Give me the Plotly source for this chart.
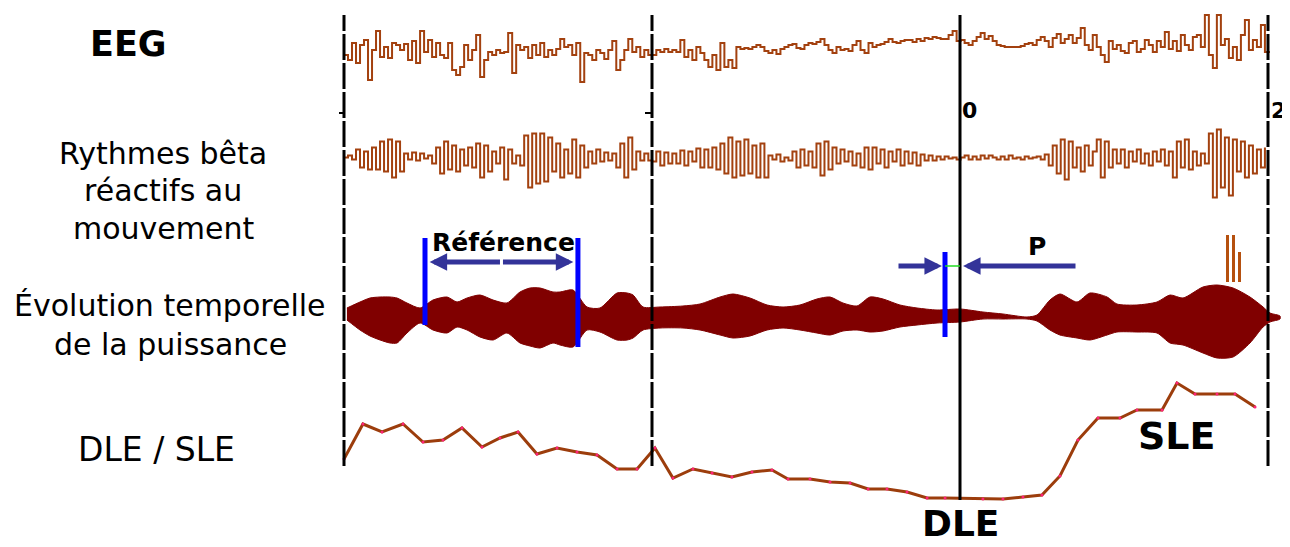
import numpy as np
import plotly.graph_objects as go

# ---------------- data ----------------
# sampling interval of the raw traces (s); time 0 = movement onset
dt = 0.026
t_start = -4.0

# raw EEG (arbitrary µV units), three 2-s blocks
eeg_pre = [0, -5, 12, -8, 10, 15, -25, 5, 24, -2, 8, -3, 12, 10, 5, 11, -5, 14, -8, 24,
           3, 15, -2, 12, 0, -3, 12, -15, -20, -12, 10, -5, 5, 20, -22, -5, 3, 0, 5, 2,
           3, 22, -18, 10, 5, 8, -3, 10, 0, 12, -2, 5, 0, 6, 16, 8, 10, 0, 12, -27,
           2, 0, -5, 5, 2, -4, 5, 14, -15, -5, 5, 16, 3, 8, -2, 5, 0]
eeg_mid = [0, 5, 3, 6, 3, 5, 3, 15, -2, 5, -5, 8, 2, -5, -12, 0, -15, 12, -12, -5,
           -13, 8, 6, 7, 6, 8, 10, 8, 4, 2, 5, 1, 6, 8, 10, 11, 7, 6, 10, 12,
           11, 13, 16, 10, 5, 2, 8, 5, 6, 4, 10, 14, 5, 2, 12, 8, 10, 11, 13, 16,
           13, 12, 14, 15, 15, 13, 16, 14, 17, 16, 18, 17, 16, 16, 20, 24, 14]
eeg_post = [15, 12, 10, 14, 18, 22, 16, 19, 14, 10, 9, 8, 8, 8, 8, 9, 11, 12, 10, 15,
            18, 14, 8, 17, 21, 12, 16, 20, 12, 17, 27, 10, 5, 20, 8, 0, -7, 14, 6, 10,
            4, 2, 12, 14, 3, 6, 15, 10, 3, 14, 8, 23, 6, 14, 4, 20, 10, 5, 18, 20,
            8, 40, 0, -13, 40, 10, 16, -3, 8, -5, 20, 35, 5, 15, 8, 30, 3, 4]

# movement-reactive beta rhythm (band-passed EEG)
beta_pre = [0, 2, -2, 8, -10, 6, -12, 10, -12, 16, -14, 18, -20, 16, -14, 4, -2, 5, -3, 4,
            -1, 2, -6, 10, -16, 16, -12, 12, -14, 8, -8, 10, -10, 14, -20, 12, -14, 6, -6, 10,
            -22, 8, -6, 2, -8, 22, -30, 24, -26, 24, -24, 20, -14, 14, -20, 8, -16, 18, -20, 12,
            -10, 6, -6, 8, -4, 5, -3, 4, -10, 14, -20, 20, -12, 6, -3, 4, -3]
beta_mid = [-4, 6, -8, 5, -6, 4, -6, 7, -8, 6, -4, 9, -10, 8, -10, 10, -12, 14, -16, 20,
            -20, 16, -18, 18, -16, 12, -20, 14, -20, 2, -2, 3, -4, 0, -3, 6, -10, 8, -8, 6,
            -10, 14, -18, 16, -12, 10, -6, 8, -4, 6, -8, 4, -10, 10, -12, 10, -6, 8, -10, 6,
            -4, 8, -8, 6, -6, 5, -8, 3, -3, 2, -3, 1, -2, 1, -1, 0, -2]
beta_post = [0, 2, -2, 1, -2, 2, -1, 2, 0, -2, 1, -2, 2, -1, 0, -2, 1, -1, 0, 1,
             -2, 3, -8, 12, -16, 18, -22, 16, -10, 10, -14, 12, -8, 6, 18, -20, 16, -10, 8, -6,
             8, -10, 6, -4, 8, -6, 4, -8, 6, -4, 8, -8, 6, -20, 16, -10, 18, -12, 6, -8,
             4, -6, 24, -40, 28, -30, 20, -38, 18, -14, 16, -20, 12, -16, 8, -10, 10]

# temporal evolution of beta power (envelope of the squared signal)
power_t = [-3.981, -3.896, -3.831, -3.766, -3.701, -3.656, -3.591, -3.506, -3.422, -3.331,
           -3.266, -3.201, -3.117, -3.032, -2.942, -2.857, -2.792, -2.727, -2.643, -2.597,
           -2.513, -2.422, -2.338, -2.227, -2.162, -2.123, -2.058, -1.948, -1.799, -1.688,
           -1.558, -1.474, -1.364, -1.253, -1.149, -1.039, -0.929, -0.844, -0.760, -0.669,
           -0.584, -0.500, -0.390, -0.279, -0.149, 0.0, 0.149, 0.279, 0.435, 0.500,
           0.584, 0.649, 0.760, 0.844, 0.955, 1.019, 1.149, 1.279, 1.364, 1.448,
           1.578, 1.669, 1.773, 1.883, 1.968, 2.013, 2.078]
power_upper = [8, 14, 18, 19, 19, 18, 13, 8, 16, 19,
               14, 18, 21, 16, 13, 24, 28, 28, 24, 24,
               26, 9, 8, 23, 23, 21, 9, 9, 10, 12,
               19, 22, 18, 11, 9, 11, 17, 19, 13, 10,
               19, 17, 11, 8, 6, 7, 4, 2, -1, 1,
               16, 22, 14, 23, 19, 12, 11, 14, 21, 18,
               29, 31, 28, 19, 9, 3, 0]
power_lower = [-4, -14, -20, -24, -27, -27, -17, -7, -14, -17,
               -11, -14, -21, -24, -17, -27, -30, -32, -27, -29,
               -31, -14, -16, -24, -24, -22, -14, -12, -12, -14,
               -19, -22, -20, -14, -12, -14, -17, -19, -15, -14,
               -16, -15, -11, -9, -7, -6, -3, -3, -3, -5,
               -14, -19, -22, -24, -19, -16, -16, -17, -27, -29,
               -37, -42, -41, -27, -11, -6, -3]

# artefact bars above the power trace
artefact_t = [1.737, 1.776, 1.815]
artefact_top = [81, 81, 64]
artefact_base = 34

# DLE / SLE curve (event-related desynchronisation / synchronisation)
dle_t = [-4.0, -3.877, -3.753, -3.617, -3.487, -3.357, -3.234, -3.104, -2.987, -2.870,
         -2.747, -2.617, -2.487, -2.357, -2.227, -2.097, -1.981, -1.864, -1.734, -1.610,
         -1.481, -1.351, -1.221, -1.117, -0.974, -0.844, -0.714, -0.597, -0.474, -0.344,
         -0.214, -0.097, 0.149, 0.279, 0.409, 0.532, 0.649, 0.766, 0.896, 1.039,
         1.149, 1.312, 1.409, 1.526, 1.669, 1.786, 1.916]
dle_val = [61, 96, 88, 96, 78, 80, 92, 73, 82, 88,
           66, 72, 68, 65, 51, 51, 72, 42, 51, 47,
           43, 48, 50, 41, 41, 38, 37, 31, 31, 28,
           22, 22, 21, 21, 23, 25, 44, 80, 102, 102,
           110, 110, 137, 126, 126, 126, 113]

# time markers
time_marks = [-4, -2, 0, 2]
time_labels = {0: "0", 2: "2"}
reference_window = [-3.474, -2.481]
p_window = [-0.0974, 0.0]

row_labels = [["EEG"], ["Rythmes bêta", "réactifs au", "mouvement"],
              ["Évolution temporelle", "de la puissance"], ["DLE / SLE"]]

# ---------------- figure ----------------
W, H = 1290, 547
OFF = 8                # page body margin: figure starts at page (8, 8)
PXS = 154.0            # pixels per second on the page
X0 = 960.0             # page x of t = 0
def px2t(px):
    return (px - X0) / PXS
def py2p(py):
    return 1 - (py - OFF) / H
def px2p(px):
    return (px - OFF) / W

eeg = np.array(eeg_pre + eeg_mid + eeg_post)
beta = np.array(beta_pre + beta_mid + beta_post)
t_eeg = t_start + np.arange(len(eeg)) * dt
t_beta = t_start + np.arange(len(beta)) * dt

trace_col = "#A3410F"
fig = go.Figure()
fig.add_trace(go.Scatter(x=t_eeg, y=eeg, mode="lines", line=dict(color=trace_col, width=2, shape="hv"),
                         yaxis="y", hoverinfo="skip", showlegend=False))
fig.add_trace(go.Scatter(x=t_beta, y=beta, mode="lines", line=dict(color=trace_col, width=2, shape="hv"),
                         yaxis="y2", hoverinfo="skip", showlegend=False))
env_x = list(power_t) + list(power_t[::-1])
env_y = list(power_upper) + list(power_lower[::-1])
fig.add_trace(go.Scatter(x=env_x, y=env_y, mode="lines", fill="toself", fillcolor="#800000",
                         line=dict(color="#800000", width=1, shape="spline", smoothing=0.7),
                         yaxis="y3", hoverinfo="skip", showlegend=False))
fig.add_trace(go.Bar(x=artefact_t, y=[v - artefact_base for v in artefact_top], base=artefact_base,
                     width=0.02, marker=dict(color="#B5500F", line=dict(width=0)), yaxis="y3",
                     hoverinfo="skip", showlegend=False))
fig.add_trace(go.Scatter(x=dle_t, y=dle_val, mode="lines+markers",
                         line=dict(color="#9C3D0C", width=3),
                         marker=dict(color="#FF2277", size=3), yaxis="y4", hoverinfo="skip", showlegend=False))

shapes = []
top_p = py2p(15)
for tm in time_marks:
    if tm == 0:
        shapes.append(dict(type="line", xref="x", yref="paper", x0=tm, x1=tm, y0=py2p(500), y1=top_p,
                           line=dict(color="black", width=3)))
    else:
        shapes.append(dict(type="line", xref="x", yref="paper", x0=tm, x1=tm, y0=py2p(466), y1=top_p,
                           line=dict(color="black", width=3, dash="26px,3px")))
# small ticks
shapes.append(dict(type="line", xref="x", yref="paper", x0=px2t(339), x1=-4, y0=py2p(113), y1=py2p(113),
                   line=dict(color="black", width=2)))
shapes.append(dict(type="line", xref="x", yref="paper", x0=px2t(645), x1=-2, y0=py2p(113), y1=py2p(113),
                   line=dict(color="black", width=2)))
# blue window bars
shapes.append(dict(type="line", xref="x", yref="y3", x0=reference_window[0], x1=reference_window[0],
                   y0=-9, y1=78, line=dict(color="#0000FF", width=5)))
shapes.append(dict(type="line", xref="x", yref="y3", x0=reference_window[1], x1=reference_window[1],
                   y0=-31, y1=78, line=dict(color="#0000FF", width=5)))
shapes.append(dict(type="line", xref="x", yref="y3", x0=p_window[0], x1=p_window[0],
                   y0=-21, y1=64, line=dict(color="#0000FF", width=5)))
shapes.append(dict(type="line", xref="x", yref="y3", x0=p_window[0], x1=p_window[1],
                   y0=50, y1=50, line=dict(color="#22DD22", width=1.5)))

navy = "#333399"
ann = []
ref_mid = (reference_window[0] + reference_window[1]) / 2
for end in reference_window:
    ann.append(dict(x=end + (0.03 if end < ref_mid else -0.03), y=54, xref="x", yref="y3",
                    ax=ref_mid, ay=54, axref="x", ayref="y3", text="", showarrow=True,
                    arrowhead=2, arrowsize=0.7, arrowwidth=5, arrowcolor=navy))
ann.append(dict(x=p_window[0] - 0.02, y=50, xref="x", yref="y3", ax=px2t(897), ay=50, axref="x", ayref="y3",
                text="", showarrow=True, arrowhead=2, arrowsize=0.7, arrowwidth=5, arrowcolor=navy))
ann.append(dict(x=p_window[1] + 0.02, y=50, xref="x", yref="y3", ax=px2t(1077), ay=50, axref="x", ayref="y3",
                text="", showarrow=True, arrowhead=2, arrowsize=0.7, arrowwidth=5, arrowcolor=navy))

font = "DejaVu Sans, Verdana, sans-serif"
def txt(s, px, py, size, xa="center"):
    ann.append(dict(text=s, x=px2p(px), y=py2p(py), xref="paper", yref="paper", showarrow=False,
                    xanchor=xa, yanchor="middle", font=dict(family=font, size=size, color="black")))

txt("<b>" + row_labels[0][0] + "</b>", 128, 44, 35)
for s, py in zip(row_labels[1], [153, 191, 229]):
    txt(s, 163, py, 30)
for s, py in zip(row_labels[2], [306, 344]):
    txt(s, 170, py, 30)
txt(row_labels[3][0], 156, 449, 33)
txt("<b>Référence</b>", 503, 243, 25)
txt("<b>P</b>", 1037, 246, 25)
txt("<b>DLE</b>", 960, 523, 36)
txt("<b>SLE</b>", 1177, 436, 38)
for tm, lab in time_labels.items():
    txt("<b>" + lab + "</b>", X0 + tm * PXS + 10, 110, 22)

ax_common = dict(visible=False, showgrid=False, zeroline=False, fixedrange=True)
fig.update_layout(
    width=W, height=H, margin=dict(l=0, r=0, t=0, b=0),
    paper_bgcolor="white", plot_bgcolor="white", showlegend=False, bargap=0,
    xaxis=dict(range=[px2t(OFF), px2t(OFF + W)], **ax_common),
    yaxis=dict(domain=[py2p(100), py2p(10)], range=[-45, 45], **ax_common),
    yaxis2=dict(domain=[py2p(215), py2p(100)], range=[-57.5, 57.5], anchor="x", **ax_common),
    yaxis3=dict(domain=[py2p(406), py2p(226)], range=[-90, 90], anchor="x", **ax_common),
    yaxis4=dict(domain=[py2p(520), py2p(370)], range=[0, 150], anchor="x", **ax_common),
    shapes=shapes, annotations=ann,
)
fig.write_html("out.html")
